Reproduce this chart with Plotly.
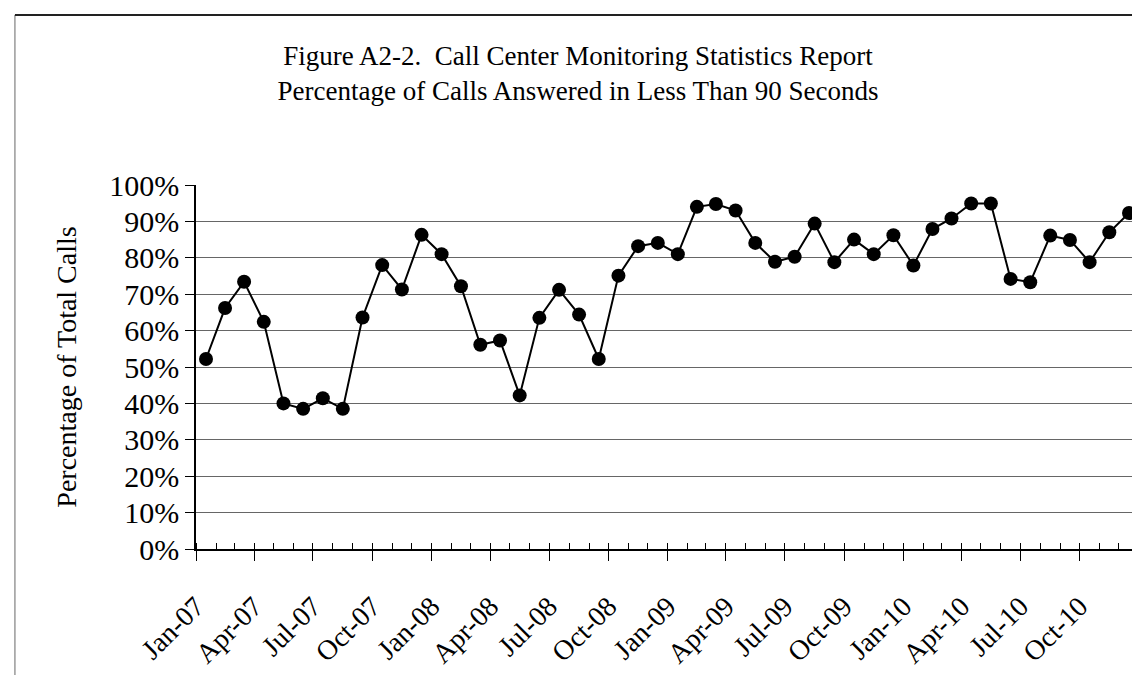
import pandas as pd
import plotly.graph_objects as go

# monthly share of calls answered in < 90 s, Jan-07 .. Dec-10
months = pd.date_range("2007-01-01", periods=48, freq="MS")
pct_answered = [
    0.522, 0.662, 0.734, 0.624, 0.400, 0.385, 0.414, 0.385, 0.636, 0.780, 0.713, 0.863,
    0.810, 0.722, 0.561, 0.573, 0.422, 0.635, 0.712, 0.644, 0.522, 0.751, 0.832, 0.841,
    0.810, 0.940, 0.948, 0.930, 0.841, 0.789, 0.803, 0.894, 0.788, 0.850, 0.810, 0.862,
    0.779, 0.879, 0.908, 0.949, 0.949, 0.742, 0.733, 0.861, 0.849, 0.788, 0.870, 0.923,
]

tick_dates = ["2007-01-01", "2007-04-01", "2007-07-01", "2007-10-01",
              "2008-01-01", "2008-04-01", "2008-07-01", "2008-10-01",
              "2009-01-01", "2009-04-01", "2009-07-01", "2009-10-01",
              "2010-01-01", "2010-04-01", "2010-07-01", "2010-10-01"]
tick_labels = ["Jan-07", "Apr-07", "Jul-07", "Oct-07", "Jan-08", "Apr-08", "Jul-08", "Oct-08",
               "Jan-09", "Apr-09", "Jul-09", "Oct-09", "Jan-10", "Apr-10", "Jul-10", "Oct-10"]

serif = "Liberation Serif, Times New Roman, serif"

fig = go.Figure()
fig.add_trace(go.Scatter(
    x=months, y=pct_answered,
    xperiod="M1", xperiodalignment="middle",
    mode="lines+markers",
    line=dict(color="black", width=2),
    marker=dict(color="black", size=14),
    showlegend=False,
))

fig.update_layout(
    width=1140, height=675,
    margin=dict(l=188, r=9, t=177, b=134),
    paper_bgcolor="white", plot_bgcolor="white",
    font=dict(family=serif, color="black"),
    title=dict(
        text="Figure A2-2.  Call Center Monitoring Statistics Report<br>"
             "Percentage of Calls Answered in Less Than 90 Seconds",
        x=0.5, xref="container", xanchor="center",
        y=0.916, yanchor="top",
        font=dict(family=serif, size=27, color="black"),
    ),
)

fig.update_xaxes(
    type="date",
    range=["2007-01-01", "2011-01-01"],
    tickmode="array", tickvals=tick_dates, ticktext=tick_labels,
    tickangle=-45, tickfont=dict(family=serif, size=28),
    ticks="outside", ticklen=10, tickcolor="black", tickwidth=1,
    ticklabelstandoff=18,
    minor=dict(dtick="M1", tick0="2007-01-01", ticks="inside", ticklen=6,
               tickcolor="black", tickwidth=1, showgrid=False),
    showgrid=False, showline=True, linecolor="black", linewidth=1.5,
)

fig.update_yaxes(
    range=[0, 1], dtick=0.1, tickformat=".0%",
    tickfont=dict(family=serif, size=30),
    ticks="outside", ticklen=9, tickcolor="black",
    showgrid=True, gridcolor="#666666", gridwidth=1,
    zeroline=False, showline=True, linecolor="black", linewidth=1.5,
    title=dict(text="Percentage of Total Calls", font=dict(family=serif, size=28), standoff=24),
)

# outer chart frame (left and top) and dotted right edge of the plot area
fig.add_shape(type="line", xref="paper", yref="paper", x0=-0.192, x1=-0.192, y0=-0.37, y1=1.467,
              line=dict(color="#666666", width=1))
fig.add_shape(type="line", xref="paper", yref="paper", x0=-0.192, x1=1.01, y0=1.467, y1=1.467,
              line=dict(color="#222222", width=2))
fig.add_shape(type="line", xref="paper", yref="paper", x0=1, x1=1, y0=0, y1=1,
              line=dict(color="#777777", width=1, dash="dot"))

fig.write_html("out.html")
